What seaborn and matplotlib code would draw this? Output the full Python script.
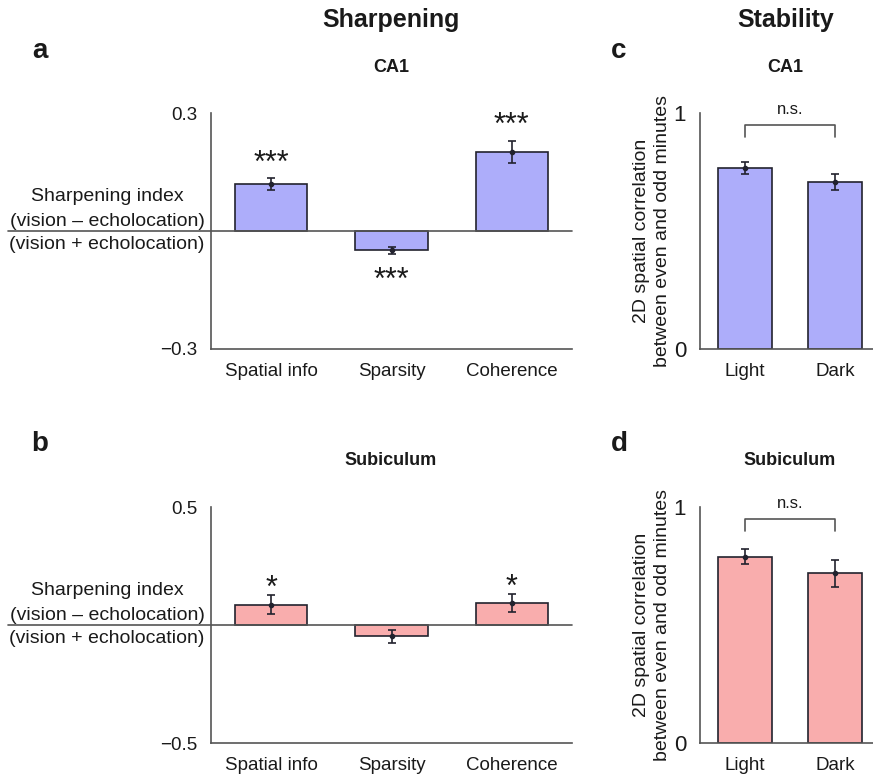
import numpy as np
import pandas as pd
import matplotlib
matplotlib.use("Agg")
import matplotlib.pyplot as plt
import matplotlib.transforms as mtransforms
import seaborn as sns

# ---------------- data ----------------
metrics = ["Spatial info", "Sparsity", "Coherence"]
ca1_sharp = [0.120, -0.049, 0.201]
ca1_sharp_err = [0.015, 0.009, 0.029]
ca1_sharp_sig = ["***", "***", "***"]
sub_sharp = [0.086, -0.048, 0.092]
sub_sharp_err = [0.040, 0.027, 0.038]
sub_sharp_sig = ["*", "", "*"]

conditions = ["Light", "Dark"]
ca1_stab = [0.766, 0.708]
ca1_stab_err = [0.025, 0.033]
sub_stab = [0.790, 0.719]
sub_stab_err = [0.033, 0.056]
stab_sig = "n.s."

sharp_ticks_ca1 = [-0.3, 0.3]
sharp_ticks_sub = [-0.5, 0.5]
stab_ticks = [0, 1]

# ---------------- style ----------------
sns.set_theme(style="white")
plt.rcParams["font.family"] = ["Liberation Sans", "DejaVu Sans"]

BLUE = "#adadfa"
PINK = "#f9adad"
EDGE = "#22222e"
SPINE = "#555555"
TXT = "#1a1a1a"

W, H = 873, 784
fig = plt.figure(figsize=(W / 100, H / 100), dpi=100)


def px_axes(x0, y0, x1, y1):
    return fig.add_axes([x0 / W, 1 - y1 / H, (x1 - x0) / W, (y1 - y0) / H])


def style_axes(ax):
    for s in ["top", "right"]:
        ax.spines[s].set_visible(False)
    for s in ["left", "bottom"]:
        ax.spines[s].set_color(SPINE)
        ax.spines[s].set_linewidth(1.2)
    ax.tick_params(axis="both", which="both", direction="out", length=6,
                   width=1.2, color=SPINE, labelsize=13.5, labelcolor=TXT, pad=4)
    ax.set_xlabel("")
    ax.set_ylabel("")


def bars(ax, cats, vals, errs, color):
    df = pd.DataFrame({"cat": cats, "val": vals})
    sns.barplot(data=df, x="cat", y="val", ax=ax, color=color, width=0.6,
                edgecolor=EDGE, linewidth=1.2, saturation=1, errorbar=None,
                zorder=2)
    ax.errorbar(np.arange(len(cats)), vals, yerr=errs, fmt="o", ms=3,
                color=EDGE, ecolor=EDGE, elinewidth=1.2, capsize=3,
                capthick=1.2, zorder=4)


def sharp_panel(ax, vals, errs, sig, color, lim, ticks, up_off):
    bars(ax, metrics, vals, errs, color)
    ax.set_ylim(lim)
    ax.set_xlim(-0.5, 2.5)
    ax.set_yticks(ticks)
    ax.set_yticklabels(["\u2212" + f"{abs(ticks[0]):g}", f"{ticks[1]:g}"])
    style_axes(ax)
    # zero line extending left to form the fraction bar
    ax.axhline(0, xmin=-0.562, xmax=1.0, color=SPINE, lw=1.2, clip_on=False,
               zorder=3)
    tr = mtransforms.blended_transform_factory(ax.transAxes, ax.transData)
    for txt, off in [("Sharpening index", 24.5), ("(vision \u2013 echolocation)", 6.9),
                     ("(vision + echolocation)", -9.8)]:
        ax.annotate(txt, xy=(-0.288, 0), xycoords=tr, xytext=(0, off),
                    textcoords="offset points", ha="center", va="center",
                    fontsize=14, color=TXT, annotation_clip=False)
    for i, (v, e, s) in enumerate(zip(vals, errs, sig)):
        if not s:
            continue
        if v >= 0:
            ax.annotate(s, xy=(i, v + e), xytext=(0, up_off), textcoords="offset points",
                        ha="center", va="baseline", fontsize=22, color=TXT)
        else:
            ax.annotate(s, xy=(i, v - e), xytext=(0, -25.5), textcoords="offset points",
                        ha="center", va="baseline", fontsize=22, color=TXT)


def stab_panel(ax, vals, errs, color):
    bars(ax, conditions, vals, errs, color)
    ax.set_ylim(0, 1)
    ax.set_xlim(-0.5, 1.42)
    ax.set_yticks(stab_ticks)
    ax.set_yticklabels([f"{t:g}" for t in stab_ticks])
    style_axes(ax)
    ax.tick_params(axis="y", labelsize=16)
    ax.text(-0.277, 0.5, "2D spatial correlation\nbetween even and odd minutes",
            transform=ax.transAxes, rotation=90, ha="center", va="center",
            fontsize=14, color=TXT, linespacing=1.25)
    # significance bracket
    ax.plot([0, 0, 1, 1], [0.90, 0.948, 0.948, 0.90], color=SPINE, lw=1.2,
            clip_on=False)
    ax.text(0.5, 1.015, stab_sig, ha="center", va="center", fontsize=12,
            color=TXT, clip_on=False)


ax_a = px_axes(211, 113, 572, 349)
sharp_panel(ax_a, ca1_sharp, ca1_sharp_err, ca1_sharp_sig, BLUE, (-0.3, 0.3),
            sharp_ticks_ca1, 4.5)
ax_b = px_axes(211, 507, 572, 743)
sharp_panel(ax_b, sub_sharp, sub_sharp_err, sub_sharp_sig, PINK, (-0.5, 0.5),
            sharp_ticks_sub, -1.5)
ax_c = px_axes(700, 113, 873, 349)
stab_panel(ax_c, ca1_stab, ca1_stab_err, BLUE)
ax_d = px_axes(700, 507, 873, 743)
stab_panel(ax_d, sub_stab, sub_stab_err, PINK)

# titles / labels
def ftext(x, y, s, **kw):
    fig.text(x / W, 1 - y / H, s, ha="center", va="center", color=TXT, **kw)

ftext(391, 20, "Sharpening", fontsize=18, fontweight="bold")
ftext(786, 20, "Stability", fontsize=18, fontweight="bold")
ftext(391, 68, "CA1", fontsize=13, fontweight="bold")
ftext(785, 68, "CA1", fontsize=13, fontweight="bold")
ftext(391, 460, "Subiculum", fontsize=13, fontweight="bold")
ftext(790, 460, "Subiculum", fontsize=13, fontweight="bold")
ftext(40, 51, "a", fontsize=20, fontweight="bold")
ftext(40, 444, "b", fontsize=20, fontweight="bold")
ftext(619, 51, "c", fontsize=20, fontweight="bold")
ftext(619, 444, "d", fontsize=20, fontweight="bold")

fig.savefig("out.png", dpi=100, facecolor="white")
